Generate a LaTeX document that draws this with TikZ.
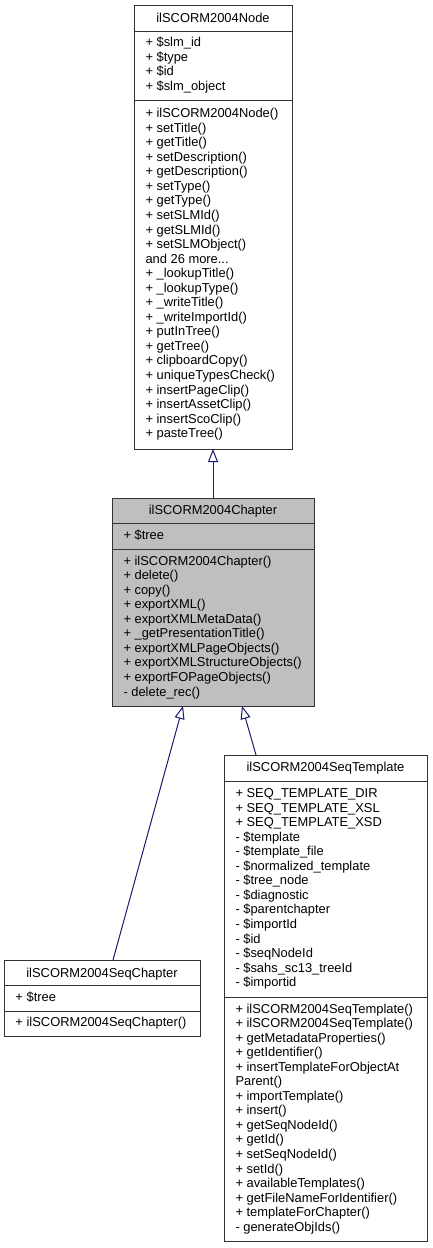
\documentclass[tikz,border=0pt]{standalone}
\usepackage{fontspec}
\setmainfont{Liberation Sans}
\usetikzlibrary{arrows.meta}
\definecolor{midnight}{HTML}{191970}
\definecolor{grey75}{HTML}{BFBFBF}
\newcommand\andmore{and 26 more...}

\begin{document}
\begin{tikzpicture}
	 [x=1pt,y=-1pt,every node/.style={inner sep=0pt,outer sep=0pt},
	  cls/.style={draw=black!80,line width=1pt,anchor=north west},
	  sep/.style={draw=black!80,line width=1pt},
	  ttl/.style={anchor=base,font=\fontsize{12.9}{14.55}\selectfont},
	  lbl/.style={anchor=base west,font=\fontsize{12.9}{14.55}\selectfont},
	  inherit/.style={draw=midnight,line width=1pt,-{Triangle[open,length=13pt,width=10pt]}}]

	\useasboundingbox (0,0) rectangle (432,1248);

	% ilSCORM2004Node
	  \node[cls,minimum width=158pt,minimum height=444pt] (node) at (134,5) {};
	  \draw[sep] (134,31) -- (292,31);
	  \draw[sep] (134,100) -- (292,100);
	  \node[ttl] (node-t) at (213,22.4) {ilSCORM2004Node};
	\foreach \t [count=\i from 0] in {+ \$slm\_id,+ \$type,+ \$id,+ \$slm\_object}
    \node[lbl] (node-a\i) at (145.5,{46.8+14.55*\i}) {\t};
	\foreach \t [count=\i from 0] in {+ ilSCORM2004Node(),+ setTitle(),+ getTitle(),
	  + setDescription(),+ getDescription(),+ setType(),+ getType(),+ setSLMId(),
	  + getSLMId(),+ setSLMObject(),\andmore,+ \_lookupTitle(),+ \_lookupType(),
	  + \_writeTitle(),+ \_writeImportId(),+ putInTree(),+ getTree(),+ clipboardCopy(),
	  + uniqueTypesCheck(),+ insertPageClip(),+ insertAssetClip(),+ insertScoClip(),
	  + pasteTree()}
    \node[lbl] (node-m\i) at (145.5,{117.6+14.55*\i}) {\t};

	% ilSCORM2004Chapter
	  \node[cls,fill=grey75,minimum width=202pt,minimum height=208pt] (chap) at (112,498) {};
	  \draw[sep] (112,523) -- (314,523);
	  \draw[sep] (112,549) -- (314,549);
	  \node[ttl] (chap-t) at (213,514.8) {ilSCORM2004Chapter};
	  \node[lbl] (chap-a0) at (123.5,539.1) {+ \$tree};
	\foreach \t [count=\i from 0] in {+ ilSCORM2004Chapter(),+ delete(),+ copy(),
	  + exportXML(),+ exportXMLMetaData(),+ \_getPresentationTitle(),
	  + exportXMLPageObjects(),+ exportXMLStructureObjects(),+ exportFOPageObjects(),
	  - delete\_rec()}
    \node[lbl] (chap-m\i) at (123.5,{565.1+14.55*\i}) {\t};

	% ilSCORM2004SeqChapter
	  \node[cls,minimum width=196pt,minimum height=76pt] (seqchap) at (4,960) {};
	  \draw[sep] (4,985.5) -- (200,985.5);
	  \draw[sep] (4,1011) -- (200,1011);
	  \node[ttl] (seqchap-t) at (102,977.2) {ilSCORM2004SeqChapter};
	  \node[lbl] (seqchap-a0) at (15.5,1001.4) {+ \$tree};
	  \node[lbl] (seqchap-m0) at (15.5,1026.6) {+ ilSCORM2004SeqChapter()};

	% ilSCORM2004SeqTemplate
	  \node[cls,minimum width=203pt,minimum height=486pt] (seqtpl) at (224,755) {};
	  \draw[sep] (224,781) -- (427,781);
	  \draw[sep] (224,997) -- (427,997);
	  \node[ttl] (seqtpl-t) at (325.5,771.5) {ilSCORM2004SeqTemplate};
	\foreach \t [count=\i from 0] in {+ SEQ\_TEMPLATE\_DIR,+ SEQ\_TEMPLATE\_XSL,
	  + SEQ\_TEMPLATE\_XSD,- \$template,- \$template\_file,- \$normalized\_template,
	  - \$tree\_node,- \$diagnostic,- \$parentchapter,- \$importId,- \$id,
	  - \$seqNodeId,- \$sahs\_sc13\_treeId,- \$importid}
    \node[lbl] (seqtpl-a\i) at (235.5,{797.5+14.55*\i}) {\t};
	\foreach \t [count=\i from 0] in {+ ilSCORM2004SeqTemplate(),+ ilSCORM2004SeqTemplate(),
	  + getMetadataProperties(),+ getIdentifier(),+ insertTemplateForObjectAt,Parent(),
	  + importTemplate(),+ insert(),+ getSeqNodeId(),+ getId(),+ setSeqNodeId(),
	  + setId(),+ availableTemplates(),+ getFileNameForIdentifier(),
	  + templateForChapter(),- generateObjIds()}
    \node[lbl] (seqtpl-m\i) at (235.5,{1013+14.55*\i}) {\t};

	% inheritance
	  \coordinate (seqchap-in) at (113,960);
	  \coordinate (chap-out1) at (183,706);
	  \coordinate (seqtpl-in) at (256,755);
	  \coordinate (chap-out2) at (242,706);
	  \draw[inherit] (chap.north) -- (node.south);
	  \draw[inherit] (seqchap-in) -- (chap-out1);
	  \draw[inherit] (seqtpl-in) -- (chap-out2);

\end{tikzpicture}
\end{document}
